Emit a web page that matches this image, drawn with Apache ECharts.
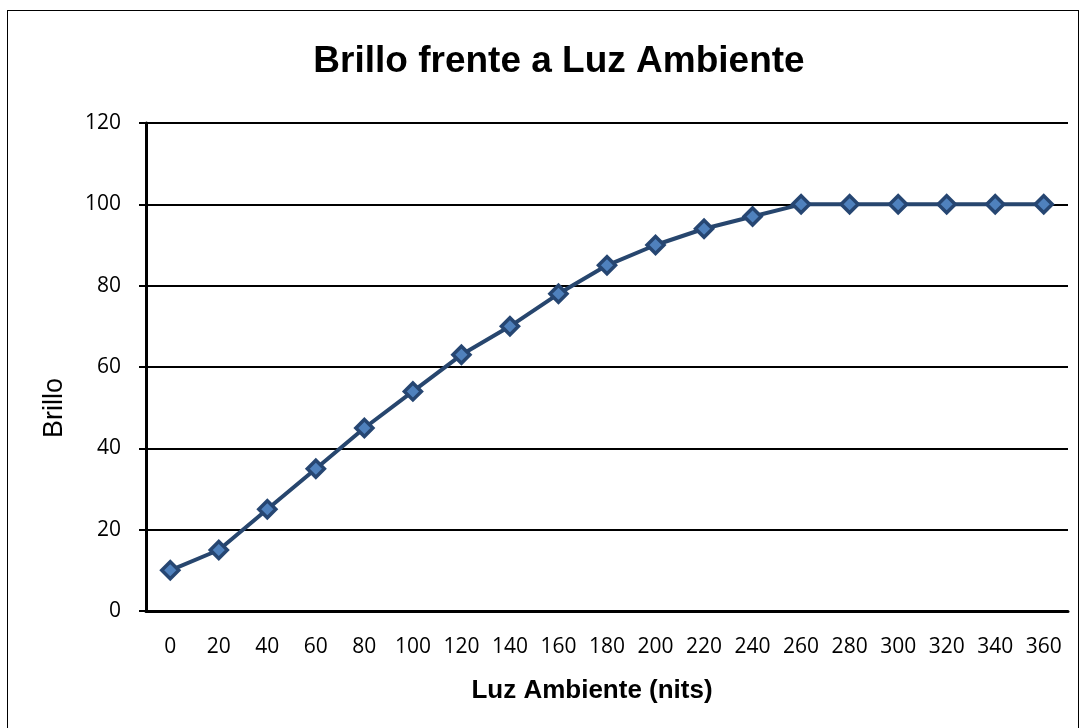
<!DOCTYPE html>
<html>
<head>
<meta charset="utf-8">
<script src="https://cdn.jsdelivr.net/npm/echarts@6/dist/echarts.min.js"></script>
<style>
  html, body { margin: 0; padding: 0; background: #fff; }
  #frame { position: absolute; left: 7px; top: 10px; width: 1072px; height: 740px; border: 1.5px solid #000; box-sizing: border-box; }
  #chart { position: absolute; left: 0; top: 0; width: 1084px; height: 728px; }
</style>
</head>
<body>
<div id="frame"></div>
<div id="chart"></div>
<script>
// Luz ambiente (nits) on the x axis
var luzAmbiente = ['0', '20', '40', '60', '80', '100', '120', '140', '160', '180',
  '200', '220', '240', '260', '280', '300', '320', '340', '360'];
// Brillo
var brillo = [10, 15, 25, 35, 45, 54, 63, 70, 78, 85, 90, 94, 97, 100, 100, 100, 100, 100, 100];

var myChart = echarts.init(document.getElementById('chart'));

var option = {
  backgroundColor: 'transparent',
  animation: false,
  title: {
    text: 'Brillo frente a Luz Ambiente',
    left: 554,
    top: 38,
    textAlign: 'center',
    textStyle: {
      fontFamily: 'Liberation Sans',
      fontWeight: 'bold',
      fontSize: 37,
      color: '#000'
    }
  },
  grid: {
    left: 146,
    right: 16,
    top: 123,
    bottom: 117
  },
  xAxis: {
    type: 'category',
    data: luzAmbiente,
    boundaryGap: true,
    name: 'Luz Ambiente (nits)',
    nameLocation: 'middle',
    nameGap: 67,
    nameTextStyle: {
      fontFamily: 'Liberation Sans',
      fontWeight: 'bold',
      fontSize: 26,
      color: '#000',
      padding: [0, 30, 0, 0]   // nudges the title a bit left of the plot centre
    },
    axisLine: { lineStyle: { color: '#000', width: 3 } },
    axisTick: { show: false },
    axisLabel: {
      margin: 26,
      fontFamily: 'Open Sans',
      fontSize: 21,
      color: '#000'
    }
  },
  yAxis: {
    type: 'value',
    min: 0,
    max: 120,
    interval: 20,
    name: 'Brillo',
    nameLocation: 'middle',
    nameGap: 78,
    nameTextStyle: {
      fontFamily: 'Liberation Sans',
      fontSize: 27,
      color: '#000',
      padding: [0, 82, 0, 0]   // sits lower than the plot centre
    },
    axisLine: { show: true, lineStyle: { color: '#000', width: 3 } },
    axisTick: { show: true, length: 7, lineStyle: { color: '#000', width: 2 } },
    axisLabel: {
      margin: 25,
      fontFamily: 'Open Sans',
      fontSize: 21,
      color: '#000'
    },
    splitLine: { lineStyle: { color: '#000', width: 2 } }
  },
  series: [{
    type: 'line',
    data: brillo,
    symbol: 'diamond',
    symbolSize: 17,
    lineStyle: { color: '#27466e', width: 4 },
    itemStyle: { color: '#4f81bd', borderColor: '#264672', borderWidth: 3.5 }
  }]
};

myChart.setOption(option);
</script>
</body>
</html>
